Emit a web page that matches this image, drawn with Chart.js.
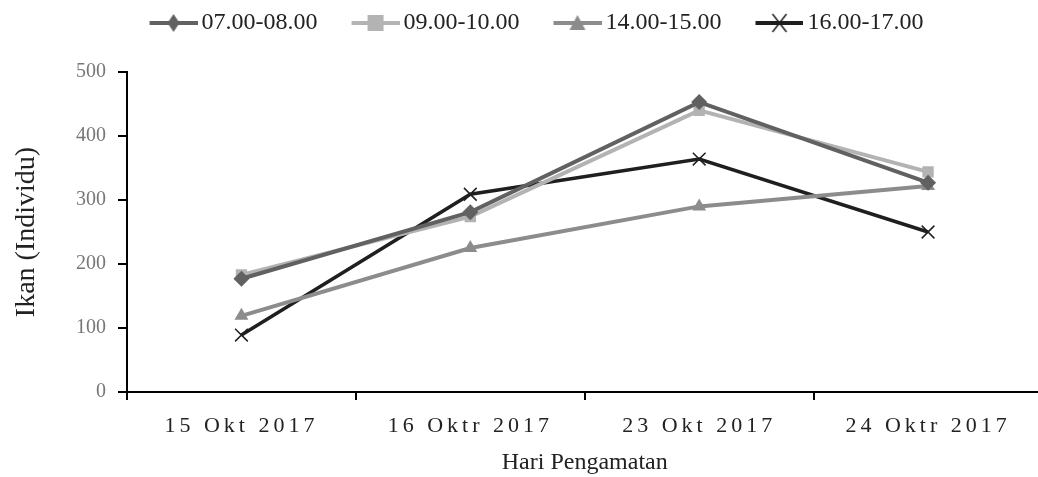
<!DOCTYPE html>
<html lang="en">
<head>
  <meta charset="UTF-8">
  <title>Ikan (Individu) per Hari Pengamatan</title>
  <script src="https://cdn.jsdelivr.net/npm/chart.js"></script>
  <style>
    html, body { margin: 0; padding: 0; background: #fff; overflow: hidden; }
    #wrap { width: 1038px; height: 477px; overflow: hidden; }
  </style>
</head>
<body>
  <div id="wrap"><canvas id="chart" width="1053" height="477"></canvas></div>
  <script>
    // data
    const days = ['15 Okt 2017', '16 Oktr 2017', '23 Okt 2017', '24 Oktr 2017'];
    const seriesNames = ['07.00-08.00', '09.00-10.00', '14.00-15.00', '16.00-17.00'];
    const jam0708 = [177, 281, 453, 327];
    const jam0910 = [183, 274, 440, 344];
    const jam1415 = [119, 225, 290, 322];
    const jam1617 = [89, 309, 364, 250];
    const yTicks = [0, 100, 200, 300, 400, 500];

    const colors = ['#616161', '#b3b3b3', '#8c8c8c', '#1f1f1f'];
    const markers = ['rectRot', 'rect', 'triangle', 'crossRot'];
    const serif = "'Liberation Serif', 'Times New Roman', serif";

    // legend symbol: gap, short line, marker in the middle
    function legendSymbol(i) {
      const c = document.createElement('canvas');
      c.width = 90; c.height = 22;
      const g = c.getContext('2d');
      g.strokeStyle = colors[i];
      g.lineWidth = 4;
      g.beginPath(); g.moveTo(42, 11); g.lineTo(90, 11); g.stroke();
      g.fillStyle = colors[i];
      const cx = 66, cy = 11;
      if (i === 0) {
        g.beginPath(); g.moveTo(cx, cy - 9); g.lineTo(cx + 6, cy); g.lineTo(cx, cy + 9); g.lineTo(cx - 6, cy); g.closePath(); g.fill();
      } else if (i === 1) {
        g.fillRect(cx - 8, cy - 8, 16, 16);
      } else if (i === 2) {
        g.beginPath(); g.moveTo(cx, cy - 8); g.lineTo(cx + 8, cy + 7); g.lineTo(cx - 8, cy + 7); g.closePath(); g.fill();
      } else {
        g.lineWidth = 1.5;
        g.beginPath(); g.moveTo(cx - 7, cy - 9); g.lineTo(cx + 7, cy + 9); g.moveTo(cx + 7, cy - 9); g.lineTo(cx - 7, cy + 9); g.stroke();
      }
      return c;
    }
    const symbols = seriesNames.map((_, i) => legendSymbol(i));

    function makeSet(i, data) {
      return {
        label: seriesNames[i],
        data: data,
        borderColor: colors[i],
        backgroundColor: colors[i],
        borderWidth: i === 3 ? 3.5 : 4,
        pointStyle: markers[i],
        pointRadius: i === 3 ? 9 : 8,
        pointBorderWidth: i === 3 ? 1.5 : 0,
        pointBorderColor: colors[i],
        tension: 0
      };
    }

    // tweaks: space under the legend, legend nudged left, letter-spaced x labels
    const tweaks = {
      id: 'tweaks',
      afterInit(chart) {
        const lg = chart.legend;
        const fit = lg.fit;
        lg.fit = function () { fit.call(this); this.height += 27; };
        const draw = lg.draw;
        lg.draw = function () {
          this.ctx.save();
          this.ctx.translate(-6, 0);
          draw.call(this);
          this.ctx.restore();
        };
      },
      afterLayout(chart) {
        const s = chart.scales.x;
        if (s._spaced) return;
        const orig = s.drawLabels;
        s.drawLabels = function (area) {
          const ctx = this.ctx;
          ctx.save();
          ctx.letterSpacing = '4px';
          orig.call(this, area);
          ctx.restore();
        };
        s._spaced = true;
      }
    };

    new Chart(document.getElementById('chart'), {
      type: 'line',
      data: {
        labels: days,
        datasets: [
          makeSet(0, jam0708),
          makeSet(1, jam0910),
          makeSet(2, jam1415),
          makeSet(3, jam1617)
        ]
      },
      options: {
        responsive: false,
        animation: false,
        layout: { padding: { top: 11, right: 2, left: 0, bottom: 0 } },
        plugins: {
          tooltip: { enabled: false },
          legend: {
            position: 'top',
            labels: {
              color: '#222',
              font: { family: serif, size: 24 },
              usePointStyle: true,
              pointStyleWidth: 74,
              padding: 0,
              generateLabels(chart) {
                return Chart.defaults.plugins.legend.labels.generateLabels(chart).map((it, i) => {
                  it.pointStyle = symbols[i];
                  it.lineWidth = 0;
                  return it;
                });
              }
            }
          }
        },
        scales: {
          x: {
            offset: true,
            grid: { offset: true, drawOnChartArea: false, drawTicks: true, tickLength: 8, color: '#000', lineWidth: 2 },
            border: { display: true, color: '#000', width: 2 },
            ticks: { color: '#222', font: { family: serif, size: 22 }, padding: 13, maxRotation: 0 },
            title: { display: true, text: 'Hari Pengamatan', color: '#222', font: { family: serif, size: 24 }, padding: { top: 6, bottom: 0 } },
            afterFit(scale) { scale.height = 85; }
          },
          y: {
            min: 0,
            max: 500,
            afterBuildTicks(scale) { scale.ticks = yTicks.map(v => ({ value: v })); },
            grid: { drawOnChartArea: false, drawTicks: true, tickLength: 9, color: '#000', lineWidth: 2 },
            border: { display: true, color: '#000', width: 2 },
            ticks: { color: '#777', font: { family: serif, size: 20 }, padding: 12 },
            title: { display: true, text: 'Ikan (Individu)', color: '#222', font: { family: serif, size: 28 }, padding: { top: 10, bottom: 0 } },
            afterFit(scale) { scale.width = 127; }
          }
        }
      },
      plugins: [tweaks]
    });
  </script>
</body>
</html>
